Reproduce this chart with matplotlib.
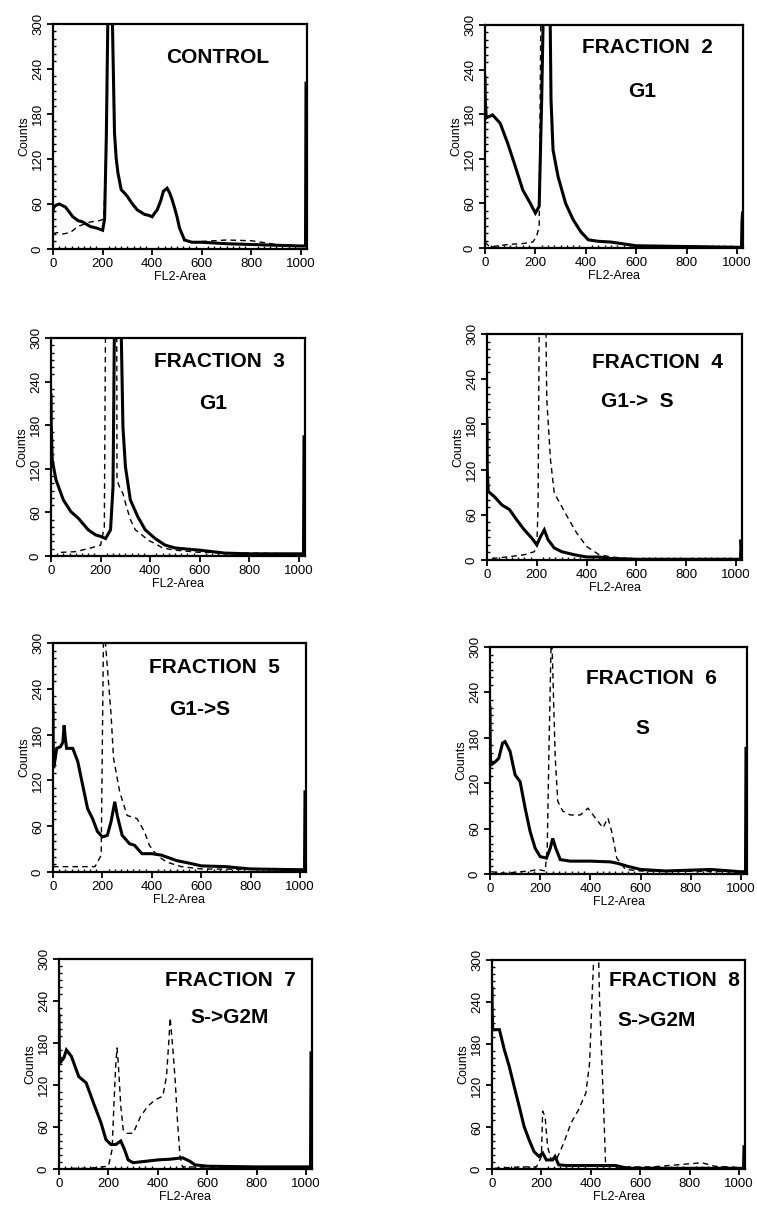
import matplotlib
matplotlib.use("Agg")
import matplotlib.pyplot as plt
from matplotlib.ticker import MultipleLocator

plt.rcParams['font.family'] = ['Liberation Sans', 'DejaVu Sans']

# ---------------- data ----------------
titles = ["CONTROL", "FRACTION  2", "FRACTION  3", "FRACTION  4",
          "FRACTION  5", "FRACTION  6", "FRACTION  7", "FRACTION  8"]
phases = ["", "G1", "G1", "G1->  S", "G1->S", "S", "S->G2M", "S->G2M"]

xticks = [0, 200, 400, 600, 800, 1000]
yticks = [0, 60, 120, 180, 240, 300]

# CONTROL
c_sx = [0, 2, 10, 25, 50, 80, 100, 120, 150, 175, 200, 208, 215, 222, 238, 248, 255, 262, 275, 290, 300, 320, 340, 360, 370, 385, 400, 410, 420, 435, 445, 460, 470, 480, 490, 500, 510, 530, 560, 600, 700, 800, 900, 1000, 1018, 1020, 1022]
c_sy = [50, 55, 58, 60, 56, 43, 38, 36, 30, 28, 25, 40, 150, 330, 330, 154, 120, 101, 79, 74, 70, 60, 52, 48, 46, 45, 43, 48, 52, 65, 77, 81, 75, 66, 55, 43, 28, 12, 9, 9, 7, 6, 5, 4, 4, 221, 221]
c_dx = [0, 15, 40, 70, 100, 150, 190, 205, 215, 222, 238, 248, 255, 262, 275, 290, 300, 320, 340, 360, 370, 385, 400, 410, 420, 435, 445, 460, 470, 480, 490, 500, 510, 530, 560, 600, 700, 800, 900, 1000]
c_dy = [20, 22, 20, 22, 30, 36, 38, 40, 150, 330, 330, 154, 120, 101, 79, 74, 70, 60, 52, 48, 46, 45, 43, 48, 52, 65, 77, 81, 75, 66, 55, 43, 28, 12, 9, 10, 12, 11, 6, 4]

# FRACTION 2
f2_sx = [0, 1, 5, 30, 60, 90, 120, 150, 180, 200, 215, 225, 232, 258, 262, 270, 290, 320, 350, 380, 410, 450, 500, 600, 800, 1000, 1018, 1020, 1022]
f2_sy = [230, 200, 175, 179, 168, 141, 110, 78, 60, 47, 56, 200, 330, 330, 200, 132, 96, 60, 38, 22, 11, 9, 8, 3, 2, 1, 1, 36, 47]
f2_dx = [0, 20, 50, 100, 150, 190, 205, 215, 222, 258, 262, 270, 290, 320, 350, 380, 410, 450, 500, 600, 800, 1000]
f2_dy = [8, 1, 3, 5, 6, 8, 16, 29, 330, 330, 200, 132, 96, 60, 38, 22, 11, 9, 8, 3, 2, 1]

# FRACTION 3
f3_sx = [0, 1, 5, 20, 50, 80, 110, 150, 180, 200, 220, 240, 250, 256, 282, 290, 300, 320, 350, 380, 420, 460, 500, 600, 650, 700, 800, 1000, 1018, 1020, 1022]
f3_sy = [222, 180, 132, 105, 77, 61, 52, 36, 29, 27, 24, 36, 95, 330, 330, 178, 123, 77, 54, 36, 24, 15, 11, 8, 6, 4, 3, 3, 3, 164, 164]
f3_dx = [40, 100, 160, 200, 215, 220, 265, 266, 275, 290, 300, 320, 340, 360, 390, 420, 450, 500, 600, 1000]
f3_dy = [5, 6, 11, 15, 40, 330, 330, 105, 96, 86, 73, 50, 36, 31, 22, 17, 11, 8, 5, 3]

# FRACTION 4
f4_sx = [0, 1, 5, 30, 60, 90, 120, 150, 180, 200, 215, 230, 245, 270, 300, 350, 400, 450, 500, 600, 800, 1000, 1018, 1020, 1022]
f4_sy = [185, 120, 91, 84, 73, 67, 53, 40, 29, 20, 31, 40, 27, 16, 11, 7, 4, 4, 2, 1, 1, 1, 1, 27, 18]
f4_dx = [20, 80, 150, 190, 200, 205, 210, 236, 240, 255, 270, 300, 330, 360, 400, 450, 500, 560, 700, 1000]
f4_dy = [2, 4, 7, 11, 18, 71, 330, 330, 213, 133, 89, 71, 53, 36, 18, 7, 4, 2, 1, 1]

# FRACTION 5
f5_sx = [0, 1, 3, 15, 30, 40, 45, 50, 55, 80, 100, 120, 140, 160, 180, 200, 220, 235, 250, 260, 280, 310, 330, 360, 400, 440, 500, 560, 600, 700, 800, 1000, 1018, 1020, 1022]
f5_sy = [215, 160, 136, 162, 164, 170, 192, 175, 162, 162, 145, 114, 83, 70, 53, 46, 48, 66, 92, 74, 48, 37, 35, 24, 24, 22, 15, 11, 8, 7, 4, 3, 3, 105, 105]
f5_dx = [0, 100, 170, 195, 205, 235, 245, 270, 300, 340, 370, 390, 420, 460, 520, 600, 1000]
f5_dy = [7, 7, 7, 22, 330, 206, 149, 105, 74, 70, 53, 35, 22, 13, 7, 4, 3]

# FRACTION 6
f6_sx = [0, 1, 3, 20, 35, 50, 60, 80, 100, 120, 140, 160, 180, 200, 225, 240, 250, 262, 280, 320, 400, 480, 510, 550, 600, 700, 880, 1000, 1018, 1020, 1022]
f6_sy = [220, 160, 144, 148, 153, 173, 175, 162, 131, 122, 87, 56, 34, 23, 21, 34, 47, 34, 19, 17, 17, 16, 14, 10, 6, 4, 6, 3, 3, 166, 166]
f6_dx = [5, 60, 120, 160, 190, 220, 228, 235, 245, 255, 260, 270, 290, 320, 360, 390, 420, 450, 470, 485, 495, 505, 540, 600, 1000]
f6_dy = [3, 1, 3, 4, 6, 4, 34, 166, 330, 210, 153, 96, 83, 78, 78, 87, 74, 61, 74, 56, 39, 21, 6, 4, 3]

# FRACTION 7
f7_sx = [0, 1, 3, 20, 30, 50, 80, 110, 140, 170, 190, 210, 230, 250, 265, 280, 300, 350, 400, 450, 500, 530, 550, 600, 800, 1000, 1018, 1020, 1022]
f7_sy = [220, 170, 151, 159, 170, 161, 132, 123, 94, 66, 42, 35, 35, 40, 28, 13, 9, 11, 13, 14, 16, 11, 6, 4, 3, 3, 3, 166, 166]
f7_dx = [50, 120, 200, 215, 222, 230, 235, 240, 250, 260, 275, 300, 330, 360, 390, 420, 435, 445, 450, 460, 470, 480, 490, 500, 1000]
f7_dy = [1, 1, 4, 28, 90, 151, 173, 151, 90, 56, 51, 51, 75, 90, 99, 104, 132, 185, 216, 175, 128, 66, 18, 3, 2]

# FRACTION 8
f8_sx = [0, 1, 3, 30, 50, 70, 90, 110, 130, 150, 170, 190, 205, 220, 245, 255, 270, 300, 400, 500, 550, 1000, 1018, 1020, 1022]
f8_sy = [260, 220, 200, 200, 171, 147, 118, 90, 61, 42, 25, 18, 23, 13, 13, 18, 6, 5, 5, 5, 1, 1, 1, 32, 32]
f8_dx = [10, 120, 180, 200, 205, 215, 225, 240, 260, 290, 320, 350, 380, 395, 405, 415, 430, 435, 445, 455, 460, 500, 650, 750, 850, 900, 1000]
f8_dy = [1, 3, 3, 18, 83, 75, 32, 13, 13, 37, 66, 85, 109, 152, 247, 330, 330, 247, 152, 56, 4, 3, 3, 6, 9, 4, 2]

solid_x = [c_sx, f2_sx, f3_sx, f4_sx, f5_sx, f6_sx, f7_sx, f8_sx]
solid_y = [c_sy, f2_sy, f3_sy, f4_sy, f5_sy, f6_sy, f7_sy, f8_sy]
dash_x = [c_dx, f2_dx, f3_dx, f4_dx, f5_dx, f6_dx, f7_dx, f8_dx]
dash_y = [c_dy, f2_dy, f3_dy, f4_dy, f5_dy, f6_dy, f7_dy, f8_dy]

# ---------------- layout (pixel boxes: left, top, right, bottom) ----------------
W, H = 757, 1211
boxes = [(53, 24, 307, 249), (485, 25, 743, 248),
         (51, 338, 305, 556), (487, 334, 742, 560),
         (53, 643, 306, 872), (490, 647, 747, 874),
         (59, 959, 312, 1169), (492, 960, 745, 1169)]
title_pos = [(0.65, 0.853), (0.63, 0.90), (0.665, 0.89), (0.667, 0.876),
             (0.64, 0.895), (0.63, 0.863), (0.676, 0.90), (0.72, 0.90)]
phase_pos = [(0.6, 0.7), (0.61, 0.70), (0.64, 0.70), (0.59, 0.70),
             (0.58, 0.71), (0.595, 0.643), (0.676, 0.72), (0.65, 0.71)]

fig = plt.figure(figsize=(W / 100, H / 100), dpi=100)

for i in range(8):
    l, t, r, b = boxes[i]
    ax = fig.add_axes([l / W, 1 - b / H, (r - l) / W, (b - t) / H])
    ax.plot(dash_x[i], dash_y[i], color='black', lw=1.0, ls=(0, (4, 3)))
    ax.plot(solid_x[i], solid_y[i], color='black', lw=2.2, solid_joinstyle='miter')
    ax.set_xlim(0, 1024)
    ax.set_ylim(0, 300)
    ax.set_xticks(xticks)
    ax.set_yticks(yticks)
    ax.xaxis.set_minor_locator(MultipleLocator(25))
    ax.yaxis.set_minor_locator(MultipleLocator(10))
    ax.tick_params(which='major', direction='out', length=4.5, width=1.3,
                   labelsize=9.5, pad=2)
    ax.tick_params(which='minor', direction='in', length=2.5, width=1.0)
    for lab in ax.get_yticklabels():
        lab.set_rotation(90)
        lab.set_va('center')
    for s in ax.spines.values():
        s.set_linewidth(1.6)
    ax.set_xlabel("FL2-Area", fontsize=9, labelpad=1)
    ax.set_ylabel("Counts", fontsize=9, labelpad=1)
    ax.text(title_pos[i][0], title_pos[i][1], titles[i], transform=ax.transAxes,
            ha='center', va='center', fontsize=15, fontweight='bold',
            clip_on=False)
    if phases[i]:
        ax.text(phase_pos[i][0], phase_pos[i][1], phases[i], transform=ax.transAxes,
                ha='center', va='center', fontsize=15, fontweight='bold')

fig.savefig("out.png", dpi=100)
